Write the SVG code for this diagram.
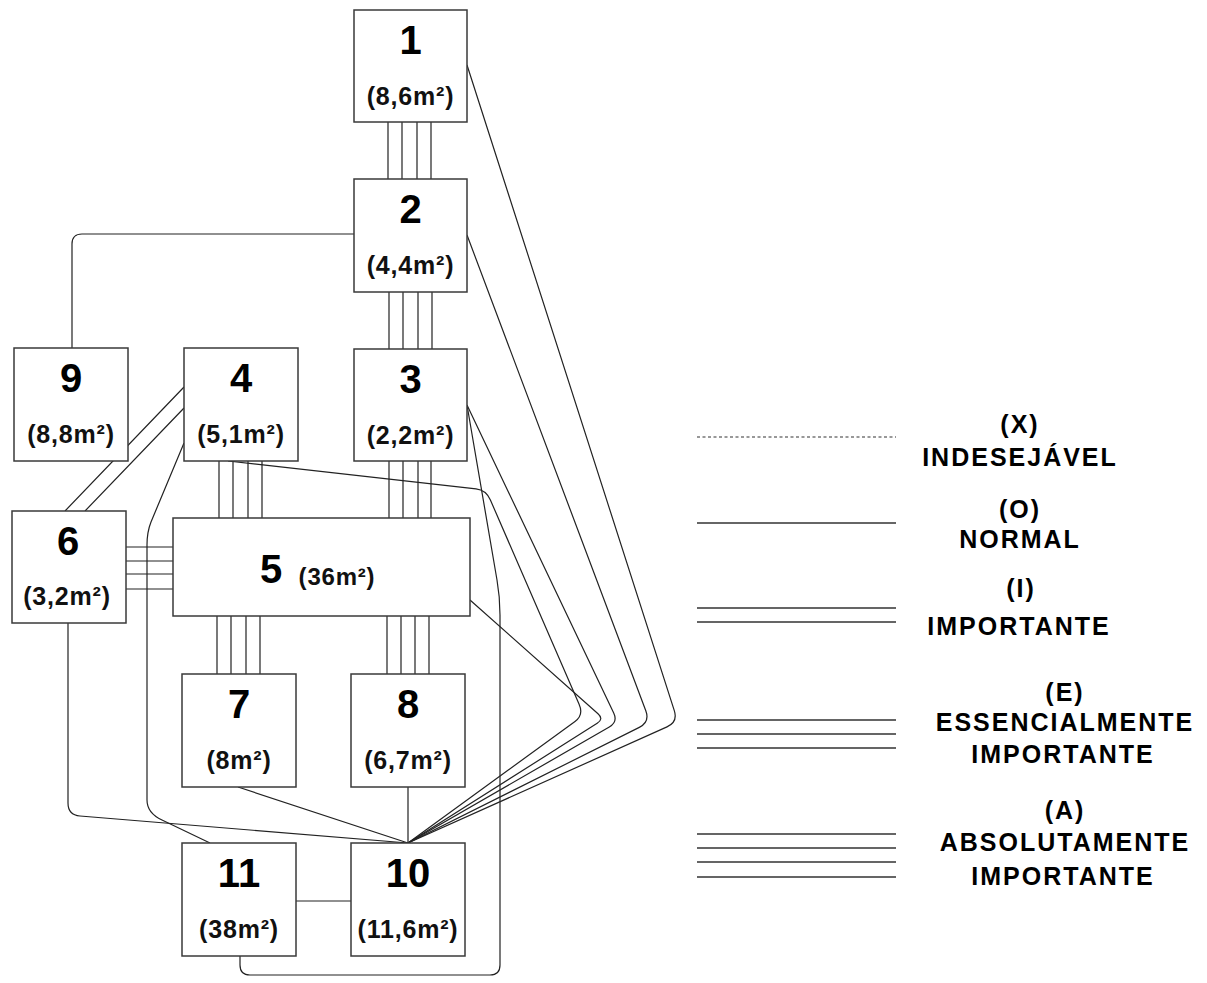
<svg xmlns="http://www.w3.org/2000/svg" width="1207" height="983" viewBox="0 0 1207 983">
<style>
.box{fill:#fff;stroke:#3a3a3a;stroke-width:1.5}
.big{font-family:"Liberation Sans",Arial,sans-serif;font-weight:bold;font-size:40px;fill:#000;text-anchor:middle}
.sm{font-family:"Liberation Sans",Arial,sans-serif;font-weight:bold;font-size:25px;letter-spacing:0.8px;fill:#111;text-anchor:middle}
.lg{font-family:"Liberation Sans",Arial,sans-serif;font-weight:bold;font-size:25px;letter-spacing:2px;fill:#000;text-anchor:middle}
.c{fill:none;stroke:#222;stroke-width:1.2}
.l{fill:none;stroke:#333;stroke-width:1.5}
</style>
<rect width="1207" height="983" fill="#fff"/>
<g id="connectors">
<!-- 1-2 (A) -->
<path class="c" d="M388,122V179M402,122V179M417,122V179M431,122V179"/>
<!-- 2-3 (A) -->
<path class="c" d="M389,292V349M403,292V349M418,292V349M432,292V349"/>
<!-- 3-5 (A) -->
<path class="c" d="M389,461V518M403,461V518M418,461V518M431,461V518"/>
<!-- 4-5 (A) -->
<path class="c" d="M219,461V518M233,461V518M248,461V518M262,461V518"/>
<!-- 6-5 (A) -->
<path class="c" d="M126,547H173M126,561H173M126,574H173M126,589H173"/>
<!-- 5-7 (A) -->
<path class="c" d="M217,616V674M231,616V674M246,616V674M260,616V674"/>
<!-- 5-8 (A) -->
<path class="c" d="M387,616V674M401,616V674M415,616V674M429,616V674"/>
<!-- 2-9 -->
<path class="c" d="M354,234H82Q72,234 72,244V348"/>
<!-- 4-6 (I) -->
<path class="c" d="M184,387L65,511M184,408L85,511"/>
<!-- 4-11 -->
<path class="c" d="M184,443L151,522Q147,532 147,545V800Q147,813 162,820L210,843"/>
<!-- 6-10 -->
<path class="c" d="M68,623V803Q68,815 80,816L408,843"/>
<!-- 7-10, 8-10, 11-10 -->
<path class="c" d="M238,787L408,843M408,787V843M296,901H351"/>
<!-- 3-11 -->
<path class="c" d="M467,405L497,580Q500,597 500,615V965Q500,975 490,975H250Q240,975 240,965V956"/>
<!-- 4-10 -->
<path class="c" d="M228,461L476,488.9Q486,490 490.4,500L579,704Q584,715 575,721.5L408,843"/>
<!-- 5-10 -->
<path class="c" d="M470,600L598,713.7Q604,719 597.2,723.3L408,843"/>
<!-- 3-10 -->
<path class="c" d="M467,405L613.7,713Q618,722 609.3,727L408,843"/>
<!-- 2-10 -->
<path class="c" d="M467,235L645.8,710.8Q650,722 639.3,727.4L408,843"/>
<!-- 1-10 -->
<path class="c" d="M467,65L674.3,710.6Q678,722 667,726.9L408,843"/>
</g>
<g id="node1"><rect class="box" x="354" y="10" width="113" height="112"/><text class="big" x="410.5" y="54">1</text><text class="sm" x="410.5" y="105">(8,6m²)</text></g>
<g id="node2"><rect class="box" x="354" y="179" width="113" height="113"/><text class="big" x="410.5" y="223">2</text><text class="sm" x="410.5" y="274">(4,4m²)</text></g>
<g id="node3"><rect class="box" x="354" y="349" width="113" height="112"/><text class="big" x="410.5" y="393">3</text><text class="sm" x="410.5" y="444">(2,2m²)</text></g>
<g id="node4"><rect class="box" x="184" y="348" width="114" height="113"/><text class="big" x="241" y="392">4</text><text class="sm" x="241" y="443">(5,1m²)</text></g>
<g id="node9"><rect class="box" x="14" y="348" width="114" height="113"/><text class="big" x="71" y="392">9</text><text class="sm" x="71" y="443">(8,8m²)</text></g>
<g id="node6"><rect class="box" x="12" y="511" width="114" height="112"/><text class="big" x="68" y="555">6</text><text class="sm" x="67" y="605">(3,2m²)</text></g>
<g id="node5"><rect class="box" x="173" y="518" width="297" height="98"/><text class="big" x="271" y="583">5</text><text class="sm" x="337" y="585" style="font-size:24px">(36m²)</text></g>
<g id="node7"><rect class="box" x="182" y="674" width="114" height="113"/><text class="big" x="239" y="718">7</text><text class="sm" x="239" y="769">(8m²)</text></g>
<g id="node8"><rect class="box" x="351" y="674" width="114" height="113"/><text class="big" x="408" y="718">8</text><text class="sm" x="408" y="769">(6,7m²)</text></g>
<g id="node11"><rect class="box" x="182" y="843" width="114" height="113"/><text class="big" x="239" y="887">11</text><text class="sm" x="239" y="938">(38m²)</text></g>
<g id="node10"><rect class="box" x="351" y="843" width="114" height="113"/><text class="big" x="408" y="887">10</text><text class="sm" x="408" y="938">(11,6m²)</text></g>
<g id="legend">
<path class="l" d="M697,437H896" stroke-dasharray="3,2.5" style="stroke-width:1.2"/>
<path class="l" d="M697,523H896"/>
<path class="l" d="M697,608H896M697,622H896"/>
<path class="l" d="M697,720H896M697,734H896M697,748H896"/>
<path class="l" d="M697,834H896M697,848H896M697,862H896M697,877H896"/>
<text class="lg" x="1020" y="433">(X)</text>
<text class="lg" x="1020" y="466">INDESEJÁVEL</text>
<text class="lg" x="1020" y="518">(O)</text>
<text class="lg" x="1020" y="548">NORMAL</text>
<text class="lg" x="1021" y="597">(I)</text>
<text class="lg" x="1019" y="635">IMPORTANTE</text>
<text class="lg" x="1065" y="701">(E)</text>
<text class="lg" x="1065" y="731">ESSENCIALMENTE</text>
<text class="lg" x="1063" y="763">IMPORTANTE</text>
<text class="lg" x="1065" y="819">(A)</text>
<text class="lg" x="1065" y="851">ABSOLUTAMENTE</text>
<text class="lg" x="1063" y="885">IMPORTANTE</text>
</g>
</svg>
